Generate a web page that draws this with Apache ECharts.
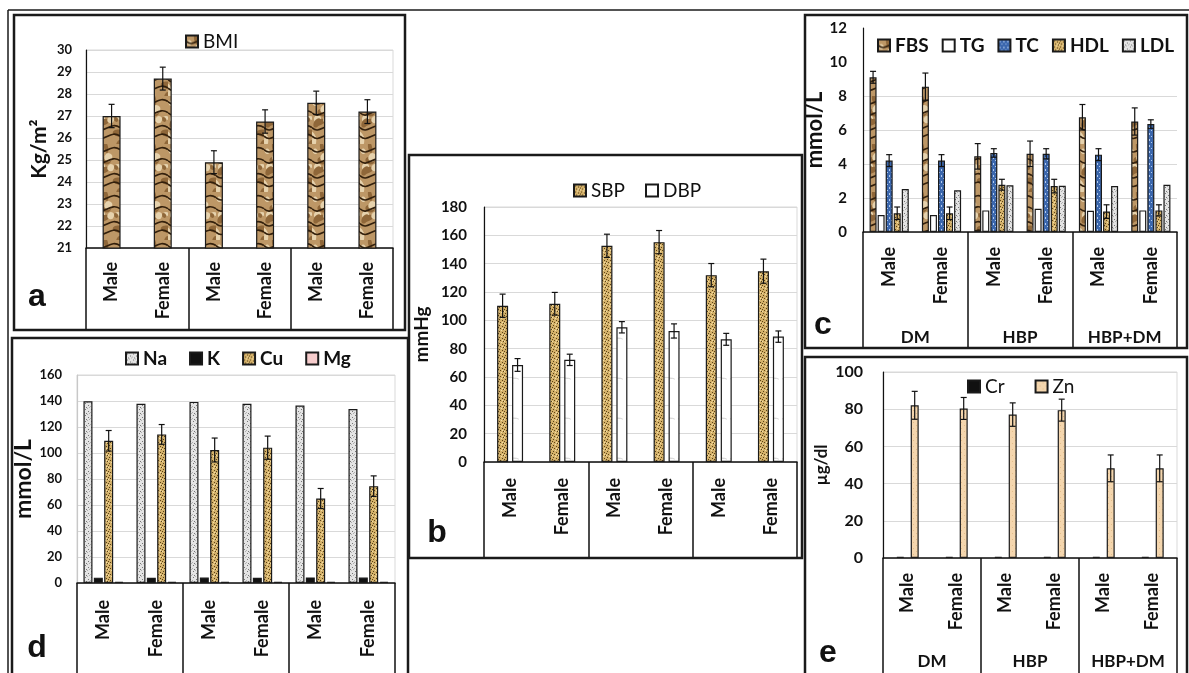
<!DOCTYPE html>
<html><head><meta charset="utf-8">
<script src="https://cdn.jsdelivr.net/npm/echarts@6/dist/echarts.min.js"></script>
<style>html,body{margin:0;padding:0;background:#fff}#c{width:1189px;height:673px}</style>
</head><body><div id="c"></div>
<script>
// ---------- DATA ----------
const genders = ['Male','Female','Male','Female','Male','Female'];
const groups = ['DM','HBP','HBP+DM'];
// panel a
const bmi = [27.0, 28.7, 24.9, 26.75, 27.6, 27.2];
const bmiErr = [0.53, 0.52, 0.52, 0.53, 0.53, 0.54];
// panel b
const sbp = [110.3, 111.7, 152.6, 155.2, 131.9, 134.7];
const sbpErr = [8.2, 8.0, 8.2, 8.2, 8.2, 8.5];
const dbp = [68.5, 72.1, 95.1, 92.5, 86.6, 88.5];
const dbpErr = [4.5, 4.0, 4.0, 5.0, 4.2, 4.0];
// panel c
const fbs = [9.1, 8.55, 4.45, 4.6, 6.75, 6.5];
const fbsErr = [0.35, 0.8, 0.75, 0.75, 0.75, 0.8];
const tg = [1.0, 1.0, 1.27, 1.37, 1.25, 1.27];
const tc = [4.2, 4.2, 4.65, 4.6, 4.55, 6.35];
const tcErr = [0.35, 0.35, 0.25, 0.3, 0.35, 0.25];
const hdl = [1.1, 1.1, 2.78, 2.7, 1.2, 1.27];
const hdlErr = [0.37, 0.37, 0.32, 0.4, 0.4, 0.33];
const ldl = [2.53, 2.45, 2.75, 2.72, 2.7, 2.78];
// panel d
const na = [139.8, 137.8, 139.3, 137.8, 136.5, 133.9];
const kk = [4.1, 4.0, 4.2, 4.0, 4.3, 4.2];
const cu = [109.4, 114.3, 102.3, 104.1, 65.0, 74.5];
const cuErr = [7.9, 7.6, 9.2, 8.9, 7.7, 7.9];
const mg = [0.85, 0.85, 0.85, 0.85, 0.9, 0.9];
// panel e
const cr = [0.6, 0.6, 0.6, 0.6, 0.6, 0.6];
const zn = [82.1, 80.4, 77.1, 79.5, 48.2, 48.2];
const znErr = [7.5, 5.9, 6.3, 5.9, 7.2, 7.2];
// axis ranges [min, max, interval]
const axisA = [21, 30, 1];
const axisB = [0, 180, 20];
const axisC = [0, 12, 2];
const axisD = [0, 160, 20];
const axisE = [0, 100, 20];

// ---------- TEXTURES (style only) ----------
function hs(n){const s=Math.sin(n*91.345+47.123)*43758.5453;return s-Math.floor(s);}
function tile(w,h,fn){const c=document.createElement('canvas');c.width=w;c.height=h;const x=c.getContext('2d');fn(x,w,h);return {image:c,repeat:'repeat'};}
const wood = tile(24,48,(x,w,h)=>{
  x.fillStyle='#bd9766';x.fillRect(0,0,w,h);
  for(let i=0;i<14;i++){x.fillStyle=i%2?'#e6d2ad':'#8f6739';x.beginPath();
    x.ellipse(hs(i)*w,hs(i+30)*h,2+hs(i+60)*4,1.5+hs(i+90)*3,hs(i+120)*3,0,Math.PI*2);x.fill();}
  x.strokeStyle='#33200c';x.lineWidth=1.6;
  for(let i=0;i<4;i++){const y0=i*12+3+hs(i+5)*5;x.beginPath();x.moveTo(0,y0);
    x.bezierCurveTo(w*0.3,y0+8,w*0.6,y0-7,w,y0);x.stroke();}
});
const gold = tile(6,6,(x,w,h)=>{
  x.fillStyle='#d4b16a';x.fillRect(0,0,w,h);
  x.fillStyle='#5a4217';[[1,1],[4,2],[2,4],[5,5],[0,3]].forEach(p=>x.fillRect(p[0],p[1],1,1));
  x.fillStyle='#f2dfaa';[[3,0],[0,5],[4,4]].forEach(p=>x.fillRect(p[0],p[1],1,1));
});
const swirl = tile(26,40,(x,w,h)=>{
  x.fillStyle='#ffffff';x.fillRect(0,0,w,h);
  x.strokeStyle='#cccccc';x.lineWidth=1;
  x.beginPath();x.arc(4,10,9,0.2,1.8);x.stroke();
  x.beginPath();x.arc(20,28,10,3.4,5.2);x.stroke();
  x.beginPath();x.arc(14,20,6,0.5,2.5);x.stroke();
});
const greySpeck = tile(6,6,(x,w,h)=>{
  x.fillStyle='#e4e4e4';x.fillRect(0,0,w,h);
  x.fillStyle='#777777';[[1,1],[4,3],[2,5]].forEach(p=>x.fillRect(p[0],p[1],1,1));
  x.fillStyle='#b0b0b0';[[3,0],[0,4],[5,5]].forEach(p=>x.fillRect(p[0],p[1],1,1));
});
const blue = tile(4,6,(x,w,h)=>{
  x.fillStyle='#3b67ad';x.fillRect(0,0,w,h);
  x.fillStyle='#b3cbee';[[1,1],[1,2],[3,4]].forEach(p=>x.fillRect(p[0],p[1],1,1));
});
const peach = tile(6,6,(x,w,h)=>{
  x.fillStyle='#f4d6ae';x.fillRect(0,0,w,h);
  x.fillStyle='#e3bd8a';[[1,2],[4,5]].forEach(p=>x.fillRect(p[0],p[1],1,1));
});

// ---------- PANELS ----------
const FONT = 'Lato, "Open Sans", sans-serif';
const panels = [
  {grid:{left:86,top:50,width:307,height:198}, ax:axisA, tickFs:13, tickMargin:14,
   yName:'Kg/m\u00b2', nameGap:36, nameFs:21, catMargin:14, tickLen:82, groupLabels:false, groupMargin:0,
   legend:{left:185,top:32,gap:20,bold:false}, barW:18, barGap:0, yLine:'#111', border:true,
   series:[{name:'BMI',data:bmi,err:bmiErr,fill:wood}]},
  {grid:{left:484,top:207,width:313,height:255}, ax:axisB, tickFs:15, tickMargin:17,
   yName:'mmHg', nameGap:53, nameFs:19, catMargin:16, tickLen:96, groupLabels:false, groupMargin:0,
   legend:{left:573,top:181,gap:20,bold:false}, barW:11, barGap:0.36, yLine:'#111', border:true,
   series:[{name:'SBP',data:sbp,err:sbpErr,fill:gold},{name:'DBP',data:dbp,err:dbpErr,fill:swirl}]},
  {grid:{left:863,top:28,width:314,height:204}, ax:axisC, tickFs:15, tickMargin:16,
   yName:'mmol/L', nameGap:27, nameFs:22, catMargin:15, tickLen:116, groupLabels:true, groupMargin:97,
   legend:{left:877,top:36,gap:13,bold:true}, barW:7, barGap:0.15, yLine:'#111', border:false,
   splitColors:['#d9d9d9','#d9d9d9','#d9d9d9','#d9d9d9','#d9d9d9','rgba(0,0,0,0)','rgba(0,0,0,0)'],
   series:[{name:'FBS',data:fbs,err:fbsErr,fill:wood},{name:'TG',data:tg,fill:'#ffffff'},
           {name:'TC',data:tc,err:tcErr,fill:blue},{name:'HDL',data:hdl,err:hdlErr,fill:gold},
           {name:'LDL',data:ldl,fill:greySpeck}]},
  {grid:{left:77,top:375,width:318,height:208}, ax:axisD, tickFs:13, tickMargin:15,
   yName:'mmol/L', nameGap:33, nameFs:23, catMargin:17, tickLen:100, groupLabels:false, groupMargin:0,
   legend:{left:125,top:349,gap:22,bold:true}, barW:9, barGap:0.15, yLine:'#c8c8c8', border:true,
   series:[{name:'Na',data:na,fill:greySpeck},{name:'K',data:kk,fill:'#111111'},
           {name:'Cu',data:cu,err:cuErr,fill:gold},{name:'Mg',data:mg,fill:'#f6cccc'}]},
  {grid:{left:883,top:372,width:294,height:186}, ax:axisE, tickFs:16, tickMargin:20,
   yName:'\u00b5g/dl', nameGap:53, nameFs:17, catMargin:15, tickLen:122, groupLabels:true, groupMargin:95,
   legend:{left:967,top:377,gap:30,bold:false}, barW:8, barGap:0.8, yLine:'#111', border:true,
   series:[{name:'Cr',data:cr,fill:'#111111'},{name:'Zn',data:zn,err:znErr,fill:peach}]}
];

const option = {animation:false, backgroundColor:'#fff', textStyle:{fontFamily:FONT},
  grid:[], xAxis:[], yAxis:[], legend:[], series:[], graphic:[]};

panels.forEach((p,pi)=>{
  option.grid.push(Object.assign({show:p.border, borderColor:'#d9d9d9', borderWidth:1,
    containLabel:false, outerBoundsMode:'none'}, p.grid));
  option.xAxis.push({type:'category', gridIndex:pi, data:genders, position:'bottom', offset:0,
    axisLine:{show:true, onZero:false, lineStyle:{color:'#111', width:1.5}},
    axisTick:{show:false},
    axisLabel:{interval:0, rotate:90, margin:p.catMargin, color:'#111', fontSize:18, fontWeight:'bold', fontFamily:FONT},
    splitLine:{show:false}});
  option.xAxis.push({type:'category', gridIndex:pi, data:groups, position:'bottom', offset:0,
    axisLine:{show:false, onZero:false},
    axisTick:{show:true, interval:0, length:p.tickLen, lineStyle:{color:'#111', width:1.5}},
    axisLabel:{show:p.groupLabels, interval:0, margin:p.groupMargin, color:'#111', fontSize:17, fontWeight:'bold', fontFamily:FONT},
    splitLine:{show:false}});
  option.yAxis.push({type:'value', gridIndex:pi, min:p.ax[0], max:p.ax[1], interval:p.ax[2],
    name:p.yName, nameLocation:'middle', nameGap:p.nameGap,
    nameTextStyle:{fontSize:p.nameFs, fontWeight:'bold', color:'#111', fontFamily:FONT},
    axisLine:{show:true, lineStyle:{color:p.yLine, width:1.2}}, axisTick:{show:false},
    axisLabel:{margin:p.tickMargin, fontSize:p.tickFs, fontWeight:'bold', color:'#111', fontFamily:FONT},
    splitLine:{show:true, lineStyle:{color:p.splitColors||'#d9d9d9', width:1}}});
  option.legend.push({left:p.legend.left, top:p.legend.top, orient:'horizontal', itemGap:p.legend.gap,
    itemWidth:12, itemHeight:12, icon:'rect', padding:0,
    data:p.series.map(s=>s.name),
    textStyle:{fontSize:19, color:'#111', fontWeight:p.legend.bold?'bold':'normal', fontFamily:FONT}});
  const n=p.series.length, w=p.barW, g=p.barGap;
  p.series.forEach((s,si)=>{
    option.series.push({type:'bar', name:s.name, xAxisIndex:2*pi, yAxisIndex:pi, data:s.data,
      barWidth:w, barGap:(g*100)+'%',
      itemStyle:{color:s.fill, borderColor:'#1a1a1a', borderWidth:1.2}});
    if(s.err){
      option.series.push({type:'custom', name:s.name+' err', xAxisIndex:2*pi, yAxisIndex:pi, z:5, silent:true, clip:false,
        data:s.data.map((v,i)=>[i,v,s.err[i]]),
        renderItem:(params,api)=>{
          const i=api.value(0), v=api.value(1), e=api.value(2);
          const t=api.coord([i,v+e]), b=api.coord([i,v-e]);
          const total=n*w+(n-1)*g*w;
          const x=t[0]-total/2+w/2+si*(w+g*w);
          const st={stroke:'#111', lineWidth:1.2};
          return {type:'group', children:[
            {type:'line', shape:{x1:x,y1:t[1],x2:x,y2:b[1]}, style:st},
            {type:'line', shape:{x1:x-3,y1:t[1],x2:x+3,y2:t[1]}, style:st},
            {type:'line', shape:{x1:x-3,y1:b[1],x2:x+3,y2:b[1]}, style:st}]};
        }});
    }
  });
});

// frames and panel letters
const frameStyle={fill:'none', stroke:'#1a1a1a', lineWidth:2.5};
const frames=[[14,15,391,315],[409,155,393,403],[805,15,382,333],[12,338,396,345],[805,357,382,330]];
frames.forEach(f=>option.graphic.push({type:'rect', shape:{x:f[0],y:f[1],width:f[2],height:f[3]}, style:frameStyle, z:100}));
option.graphic.push({type:'line', shape:{x1:8,y1:10,x2:1189,y2:10}, style:{stroke:'#1a1a1a',lineWidth:1.5}, z:100});
option.graphic.push({type:'line', shape:{x1:8,y1:10,x2:8,y2:673}, style:{stroke:'#1a1a1a',lineWidth:1.5}, z:100});
const letters=[['a',37,297],['b',437,533],['c',823,325],['d',37,648],['e',828,653]];
letters.forEach(l=>option.graphic.push({type:'text', x:l[1], y:l[2], z:100,
  style:{text:l[0], fill:'#111', font:'bold 32px "Liberation Sans", Arial, sans-serif', align:'center', verticalAlign:'middle'}}));

const chart=echarts.init(document.getElementById('c'), null, {renderer:'canvas'});
chart.setOption(option);
</script></body></html>
